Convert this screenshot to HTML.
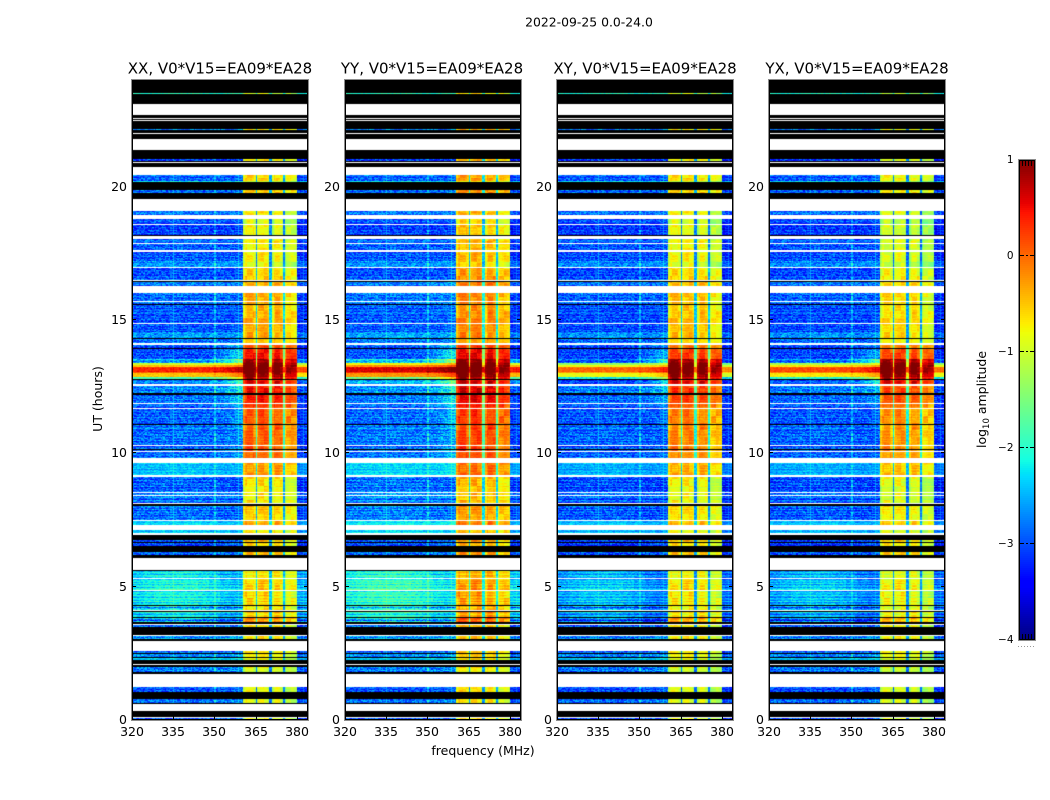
<!DOCTYPE html>
<html>
<head>
<meta charset="utf-8">
<title>2022-09-25 0.0-24.0</title>
<style>
html,body{margin:0;padding:0;background:#fff;}
#stage{position:relative;width:1050px;height:800px;overflow:hidden;background:#fff;}
canvas{position:absolute;top:80px;}
svg{position:absolute;left:0;top:0;}
text{font-family:"DejaVu Sans","Liberation Sans",sans-serif;fill:#000;}
</style>
</head>
<body>
<div id="stage">
<canvas id="h0" width="178" height="640" style="left:131px"></canvas>
<canvas id="h1" width="178" height="640" style="left:344px"></canvas>
<canvas id="h2" width="178" height="640" style="left:556px"></canvas>
<canvas id="h3" width="178" height="640" style="left:768px"></canvas>
<svg id="ov" width="1050" height="800" xmlns="http://www.w3.org/2000/svg">
<text x="589" y="26.5" font-size="12.4" text-anchor="middle">2022-09-25 0.0-24.0</text>
<text x="220" y="73.5" font-size="15" text-anchor="middle">XX, V0*V15=EA09*EA28</text>
<text x="432" y="73.5" font-size="15" text-anchor="middle">YY, V0*V15=EA09*EA28</text>
<text x="645" y="73.5" font-size="15" text-anchor="middle">XY, V0*V15=EA09*EA28</text>
<text x="857" y="73.5" font-size="15" text-anchor="middle">YX, V0*V15=EA09*EA28</text>
<text x="483" y="755" font-size="12.5" text-anchor="middle">frequency (MHz)</text>
<text transform="translate(102,399) rotate(-90)" font-size="12.5" text-anchor="middle">UT (hours)</text>
<text transform="translate(986,399.5) rotate(-90)" font-size="12.5" text-anchor="middle">log<tspan dy="3" font-size="8.5">10</tspan><tspan dy="-3"> amplitude</tspan></text>
<line x1="1018" y1="646.5" x2="1036" y2="646.5" stroke="#999" stroke-width="1" stroke-dasharray="1 2"/>
</svg>
</div>
<script>
/* ---- chart data ---- */
const xTickLabels = [320, 335, 350, 365, 380];
const yTickLabels = [0, 5, 10, 15, 20];
const colorbarTicks = [-4, -3, -2, -1, 0, 1];
const colorbarMinorTicks = [1, 2, 3, 4];

/* time bands, top of plot downward: hour where each band ends, K = black, W = flagged/white, D = data */
const bandEnd = [23.52,23.49,23.10,22.69,22.59,22.55,22.50,22.47,22.17,22.13,22.02,21.99,21.80,21.38,21.05,20.96,20.93,20.89,20.75,20.44,20.22,20.18,19.88,19.77,19.55,19.08,18.94,18.79,18.59,18.55,18.18,18.14,18.05,17.88,17.84,17.63,17.55,17.22,17.18,17.00,16.96,16.50,16.46,16.41,16.28,16.02,15.70,15.68,15.60,15.57,14.88,14.85,14.56,14.31,14.28,14.15,14.06,13.94,13.90,13.53,13.39,13.31,13.23,13.06,13.00,12.87,12.80,12.75,12.60,12.53,12.25,12.20,11.88,11.85,11.70,11.67,11.10,11.07,10.31,10.28,10.15,10.13,10.09,10.06,9.84,9.65,9.19,9.10,8.55,8.50,8.44,8.40,8.13,8.09,8.04,7.50,7.46,7.32,7.13,7.02,6.94,6.75,6.68,6.64,6.53,6.31,6.19,6.09,5.63,5.59,5.31,5.28,4.88,4.84,4.31,4.28,4.13,4.09,4.04,3.87,3.84,3.68,3.59,3.55,3.50,3.19,3.15,3.04,2.96,2.59,2.51,2.48,2.36,2.33,2.25,2.10,2.05,2.00,1.81,1.74,1.25,1.06,0.78,0.65,0.61,0.34,0.10,0.06,0];
const bandKind = ["K","D","K","W","K","W","K","W","K","D","K","W","K","W","K","D","K","W","K","W","D","D","K","D","K","W","D","W","D","W","D","K","W","D","W","D","W","D","D","D","W","D","W","K","D","W","D","W","D","K","D","W","D","D","K","D","W","D","K","D","D","D","D","D","D","D","D","K","D","W","D","K","D","W","D","W","D","K","D","W","D","K","D","W","D","W","D","W","D","W","D","W","D","W","K","D","W","D","W","D","W","K","D","K","D","K","D","K","W","K","D","W","D","W","D","K","D","W","K","D","K","D","K","W","D","K","W","D","K","W","D","K","D","K","D","K","W","K","D","K","W","D","K","D","K","W","K","W","D"];
/* log10 amplitude of each D band, in order: out-of-band level and in-band (360-380 MHz) level */
const dataLow = [-2,-2.9,-3,-2.9,-2.3,-2.9,-2.8,-3,-3.1,-2.9,-2.95,-3,-2.6,-2.7,-3,-2.8,-2.9,-2.9,-3,-3,-2.7,-2.9,-3,-3,-2.6,-1.0,-0.5,0.35,0.1,-0.5,-1.8,-2.8,-2.8,-2.9,-3,-2.95,-2.9,-3,-3,-2.9,-2.5,-3,-2.9,-2.9,-2.9,-2.4,-2.5,-3,-3,-2.9,-2.4,-2.3,-2.35,-2.6,-2.45,-2.8,-2.8,-2.6,-2.9,-2.7,-2.4,-2.8,-3,-2.8,-3];
const dataHigh = [-0.9,-0.7,-0.6,-0.65,-1.2,-0.5,-0.8,-1,-0.8,-0.7,-0.8,-0.8,-0.9,-0.9,-0.55,-0.4,-0.4,-0.4,-0.4,-0.45,-0.45,-0.45,0.15,0.4,0.75,0.95,1.05,1.1,1.1,1,0.8,0.55,0.4,0.3,0.2,0.1,-0.05,0.05,0.05,0.05,-0.35,-0.7,-0.7,-0.75,-0.6,-0.3,-0.7,-0.6,-0.7,-0.5,-0.75,-0.65,-0.6,-0.7,-0.65,-0.3,-0.7,-0.6,-0.8,-0.8,-0.9,-0.9,-0.95,-0.9,-0.9];

/* per-panel adjustments for ten time sections (section start hours below) */
const sectionStart = [0,2.6,3.6,5.63,7.0,9.7,12.6,13.5,14.1,16.3];
const lowDeltaXX = [0,0,0,0,0,0,0,0,0,0];
const lowDeltaYY = [0,0.05,0.2,0.05,0.1,0.05,0.25,0.05,0.05,0];
const lowDeltaXY = [-0.05,-0.1,-0.3,-0.1,-0.1,-0.05,-0.35,-0.05,-0.05,-0.05];
const lowDeltaYX = [-0.05,-0.1,-0.3,-0.1,-0.1,-0.05,-0.2,-0.05,-0.05,-0.05];
const highDeltaXX = [0,0,0,0,0,0,0,0,0,0];
const highDeltaYY = [0.2,0.2,0.3,0.2,0.25,0.15,0.1,0.1,0.2,0.3];
const highDeltaXY = [-0.05,-0.05,-0.1,-0.05,-0.1,-0.2,0,-0.2,-0.1,-0.05];
const highDeltaYX = [-0.1,-0.1,-0.2,-0.1,-0.2,-0.3,0,-0.25,-0.25,-0.2];
const sectionLump = [0,0,0.25,0,0.1,0.08,0,0,0.05,0.05];
const sectionRowGain = [1,1,3,1,1.5,1.2,1,1,1,1];

/* spectral shape */
const subbandStart = [360.3,365.6,370.8,375.6];
const subbandEnd = [364.8,369.9,375.0,379.9];
const subbandGain = [0.05,0.05,0,-0.25];
const subbandProfile = [-0.3,-0.05,0,0.03,0.05,0.03,0,-0.05,-0.2];
const lumpProfile = [0.2,0.6,0.9,1,1,1,0.7,0.2,-0.4,-0.8];
const shoulderProfile = [0,0.01,0.02,0.03,0.05,0.07,0.1,0.13,0.17,0.21,0.26,0.32,0.38,0.44,0.5,0.55,0.6];
const lineFreq = [336,350.2];
const lineGain = [0.45,0.45];

/* hand-typed grain used to give cells their speckled look */
const grainA = [0.3,-0.7,0.9,-0.2,-0.9,0.5,0.1,-0.4,0.8,-1,0.2,0.6,-0.6,-0.1,1,-0.3,0.4,-0.8,0.7,0,-0.5,0.95,-0.75,0.15,-0.25,0.55,-0.95,0.35,0.75,-0.45,-0.05,0.65,-0.85,0.25,-0.15,0.85,-0.55,0.45,-0.35,0.05,-0.65,0.6,-0.9,0.2,0.9,-0.2,-0.6];
const grainRow = [0.1,-0.12,0.05,0.16,-0.05,-0.18,0.08,0.02,-0.1,0.14,-0.02,-0.15,0.12,0.04,-0.08,0.18,-0.14,0,0.06,-0.06,0.11,-0.16,0.03];

/* ---- layout and axis functions ---- */
const panelLeft = [131,344,556,768];
const lowDeltas = [lowDeltaXX,lowDeltaYY,lowDeltaXY,lowDeltaYX];
const highDeltas = [highDeltaXX,highDeltaYY,highDeltaXY,highDeltaYX];
function hourToY(h){return 720-h*640/24;}
function freqToX(p,f){return panelLeft[p]+0.7+(f-320)*2.755;}
function valueToColorbarY(v){return 160+(1-v)*96;}

function jetPart(t,pts){
  for(let i=1;i<pts.length;i++){
    if(t<=pts[i][0]){
      const a=pts[i-1],b=pts[i];
      return a[1]+(b[1]-a[1])*(t-a[0])/(b[0]-a[0]);
    }
  }
  return pts[pts.length-1][1];
}
const jetR=[[0,0],[0.35,0],[0.66,1],[0.89,1],[1,0.5]];
const jetG=[[0,0],[0.125,0],[0.375,1],[0.64,1],[0.91,0],[1,0]];
const jetB=[[0,0.5],[0.11,1],[0.34,1],[0.65,0],[1,0]];
function jet(v){
  const t=Math.max(0,Math.min(1,(v+4)/5));
  return 'rgb('+Math.round(255*jetPart(t,jetR))+','+Math.round(255*jetPart(t,jetG))+','+Math.round(255*jetPart(t,jetB))+')';
}
function sectionOf(h){
  let s=0;
  for(let i=0;i<sectionStart.length;i++){if(h>=sectionStart[i])s=i;}
  return s;
}
function cellValue(p,sec,L,H,f,c,row){
  const g=grainA[(c*c*3+row*17+c*row)%grainA.length];
  const j=grainRow[row%grainRow.length]*sectionRowGain[sec];
  const patch=grainA[(Math.floor(row/7)*5+Math.floor(c/4)*11)%grainA.length];
  const high=H+highDeltas[p][sec];
  let low=L+lowDeltas[p][sec];
  if(f<360){low+=sectionLump[sec]*lumpProfile[Math.floor((f-320)/4)];}
  const soft=L>-1.5?0.35:(L>-2.6?0.6:1);
  for(let i=0;i<subbandStart.length;i++){
    if(f>=subbandStart[i]&&f<subbandEnd[i]){
      const pos=Math.floor((f-subbandStart[i])/(subbandEnd[i]-subbandStart[i])*subbandProfile.length);
      return high+subbandGain[i]+subbandProfile[pos]+g*0.1+patch*0.2+j*0.4;
    }
  }
  if(f>=subbandEnd[3]){
    return low-0.2+(g*0.38+j)*soft;
  }
  if(f>=subbandStart[0]){
    return Math.max(low,high-1.9)+g*0.2;
  }
  let v=low+(g*0.42+j)*soft;
  if(f>=344){
    v+=shoulderProfile[Math.floor(f-344)]*(0.2+Math.max(0,high+0.3)*1.5)*(L>-1.5?0.3:1);
  }
  for(let i=0;i<lineFreq.length;i++){
    if(Math.abs(f-lineFreq[i])<0.25){v+=lineGain[i]*soft;}
  }
  return v;
}
function drawPanel(p){
  const ctx=document.getElementById('h'+p).getContext('2d');
  ctx.fillStyle='#fff';
  ctx.fillRect(0,0,178,640);
  let top=24,d=0;
  const nChannels=128;
  for(let b=0;b<bandEnd.length;b++){
    const y0=Math.round(hourToY(top))-80;
    const y1=Math.max(y0+1,Math.round(hourToY(bandEnd[b]))-80);
    const kind=bandKind[b];
    if(kind==='K'||kind==='W'){
      ctx.fillStyle=kind==='K'?'#000':'#fff';
      ctx.fillRect(0,y0,178,y1-y0);
    }else{
      const L=dataLow[d],H=dataHigh[d];
      d++;
      const sec=sectionOf((top+bandEnd[b])/2);
      for(let y=y0;y<y1;y++){
        for(let c=0;c<nChannels;c++){
          const f=320+c*0.5;
          const x0=Math.round(freqToX(p,f))-panelLeft[p];
          const x1=Math.round(freqToX(p,f+0.5))-panelLeft[p];
          ctx.fillStyle=jet(cellValue(p,sec,L,H,f+0.25,c,y));
          ctx.fillRect(x0,y,Math.max(1,x1-x0),1);
        }
      }
    }
    top=bandEnd[b];
  }
}
for(let p=0;p<4;p++){drawPanel(p);}

/* ---- axes ---- */
const ov=document.getElementById('ov');
const NS='http://www.w3.org/2000/svg';
function addLine(x1,y1,x2,y2,color){
  const l=document.createElementNS(NS,'line');
  l.setAttribute('x1',x1);
  l.setAttribute('y1',y1);
  l.setAttribute('x2',x2);
  l.setAttribute('y2',y2);
  l.setAttribute('stroke',color);
  l.setAttribute('stroke-width','1');
  ov.appendChild(l);
  return l;
}
function addLabel(x,y,size,anchor,str){
  const t=document.createElementNS(NS,'text');
  t.setAttribute('x',x);
  t.setAttribute('y',y);
  t.setAttribute('font-size',size);
  t.setAttribute('text-anchor',anchor);
  t.textContent=str;
  ov.appendChild(t);
  return t;
}
function addFrame(x,y,w,h,color){
  const r=document.createElementNS(NS,'rect');
  r.setAttribute('x',x);
  r.setAttribute('y',y);
  r.setAttribute('width',w);
  r.setAttribute('height',h);
  r.setAttribute('fill','none');
  r.setAttribute('stroke',color);
  r.setAttribute('stroke-width','1');
  ov.appendChild(r);
  return r;
}
for(let p=0;p<4;p++){
  const left=panelLeft[p];
  const outer=addFrame(left+0.5,79.5,177,641,'#8c8c8c');
  
  
  const inner=addFrame(left+1.5,80.5,175,639,'#000');
  
  
  xTickLabels.forEach(function(f){
    const x=Math.round(freqToX(p,f))+0.5;
    const t1=addLine(x,720,x,716,'#000');
    
    
    const t2=addLine(x,80,x,84,'#000');
    
    
    const lab=addLabel(x-0.5,736,12.5,'middle',String(f));
    
    
  });
  yTickLabels.forEach(function(h){
    const y=Math.round(hourToY(h))-0.5;
    const t1=addLine(left+1,y,left+5,y,'#000');
    
    
    const t2=addLine(left+177,y,left+173,y,'#000');
    
    
    const lab=addLabel(left-4,y+4.3,12.5,'end',String(h));
    
    
  });
}

/* ---- colorbar ---- */
for(let y=160;y<640;y+=2){
  const v=1-(y+1-160)/96;
  const r=document.createElementNS(NS,'rect');
  r.setAttribute('x',1019);
  r.setAttribute('y',y);
  r.setAttribute('width',16);
  r.setAttribute('height',2);
  r.setAttribute('fill',jet(v));
  
  
  ov.appendChild(r);
}
const cbOuter=addFrame(1018.5,159.5,17,481,'#8c8c8c');


const cbInner=addFrame(1019.5,160.5,15,479,'#000');


colorbarTicks.forEach(function(v){
  const y=Math.round(valueToColorbarY(v))-0.5;
  if(v>-4&&v<1){
    const a=addLine(1019,y,1024,y,'#000');
    
    
    const m=addLine(1026,y,1028,y,'#000');
    
    
    const b=addLine(1030,y,1035,y,'#000');
    
    
  }
  const lab=addLabel(1013.5,y+3.5,10.5,'end',(v<0?'\u2212':'')+Math.abs(v));
  
  
});
colorbarMinorTicks.forEach(function(i){
  const x=1019.5+i*3;
  const a=addLine(x,160,x,166,'#000');
  
  
  const b=addLine(x,640,x,634,'#000');
  
  
});
</script>
</body>
</html>
